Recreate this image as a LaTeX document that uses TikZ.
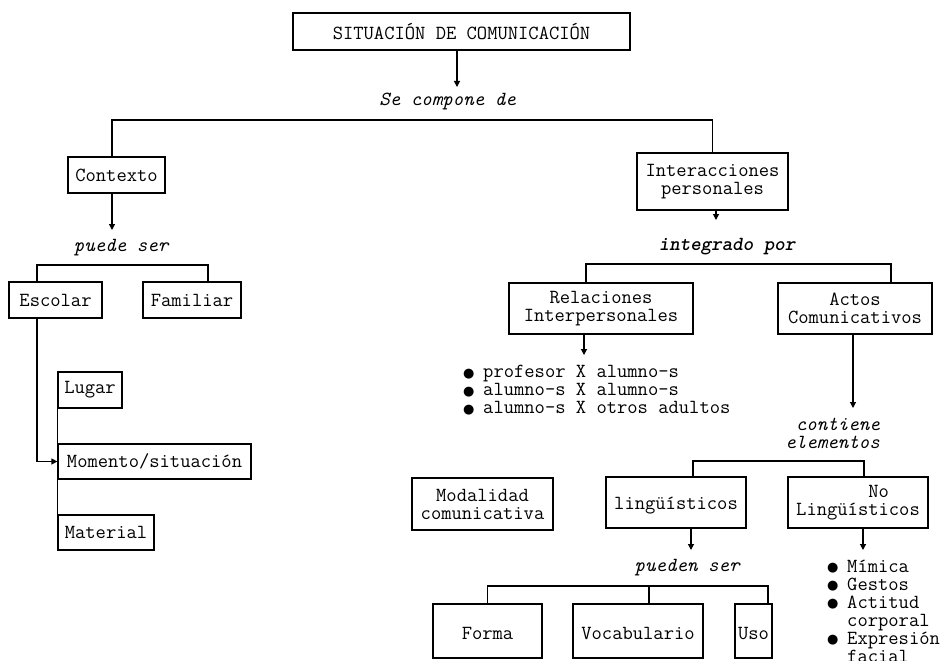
\documentclass[tikz,border=0pt]{standalone}
\usepackage{fontspec}
\newfontfamily\symfont{DejaVu Sans}
\usetikzlibrary{arrows.meta, positioning}

\newcommand{\blt}{\makebox[17pt][l]{\hspace{-3pt}\raisebox{0.5pt}{\symfont\fontsize{13}{13}\selectfont ●}}}
\newcommand{\nobl}{\makebox[17pt][l]{}}

\begin{document}
\begin{tikzpicture}[
    x=1pt, y=-1pt,
    every node/.style={font=\ttfamily\fontsize{20}{18}\selectfont},
    box/.style={rectangle, draw, line width=1.2pt, inner sep=1pt, align=center},
    tag/.style={font=\ttfamily\fontsize{20}{18}\selectfont\itshape, inner sep=0pt},
    list/.style={align=left, inner sep=0pt, anchor=west},
    link/.style={line width=1.2pt},
    arrow/.style={-{Triangle[length=6pt, width=6pt]}, line width=1.2pt}
]
\useasboundingbox (0,0) rectangle (940,661);

% Nodes
\node[box, minimum width=337pt, minimum height=37pt] (situacion) at (461.5,31.5) {SITUACIÓN DE COMUNICACIÓN};
\node[tag] (se-compone) at (447.5,102) {Se compone de};

\node[box, minimum width=97pt, minimum height=36pt] (contexto) at (116.5,175) {Contexto};
\node[tag] (puede-ser) at (121,248) {puede ser};
\node[box, minimum width=93pt, minimum height=36pt] (escolar) at (55.5,300) {Escolar};
\node[box, minimum width=98pt, minimum height=36pt] (familiar) at (192,300) {Familiar};
\node[box, minimum width=64pt, minimum height=36pt] (lugar) at (90,390) {Lugar};
\node[box, minimum width=193pt, minimum height=35pt] (momento) at (154.5,461.5) {Momento/situación};
\node[box, minimum width=96pt, minimum height=35pt] (material) at (106,532.5) {Material};

\node[box, minimum width=151pt, minimum height=57pt] (interacciones) at (712.5,181.5) {Interacciones\\personales};
\node[tag, font=\ttfamily\fontsize{20}{18}\selectfont\bfseries\itshape] (integrado) at (727,247) {integrado por};
\node[box, minimum width=184pt, minimum height=51pt] (relaciones) at (601,308.5) {Relaciones\\Interpersonales};
\node[box, minimum width=154pt, minimum height=51pt] (actos) at (855,308.5) {Actos\\Comunicativos};
\node[list] (rel-list) at (466,390) {\blt profesor X alumno-s\\\blt alumno-s X alumno-s\\\blt alumno-s X otros adultos};
\node[tag, align=right, anchor=east] (contiene) at (880,433.5) {contiene\\elementos};

\node[box, minimum width=141pt, minimum height=52pt] (modalidad) at (482.5,504) {Modalidad\\comunicativa};
\node[box, minimum width=140pt, minimum height=51pt] (linguisticos) at (676,502.5) {\mbox{}\\lingüísticos};
\node[box, minimum width=140pt, minimum height=51pt, align=left] (no-linguisticos) at (858,502.5) {\phantom{Lingüis}No\\Lingüísticos};
\node[tag] (pueden-ser) at (687,568) {pueden ser};
\node[list] (noling-list) at (830,611) {\blt Mímica\\\blt Gestos\\\blt Actitud\\\nobl corporal\\\blt Expresión\\\nobl facial};

\node[box, minimum width=109pt, minimum height=54pt] (forma) at (487.5,631) {\mbox{}\\Forma};
\node[box, minimum width=130pt, minimum height=54pt] (vocabulario) at (638,631) {\mbox{}\\Vocabulario};
\node[box, minimum width=37pt, minimum height=54pt] (uso) at (753.5,631) {\mbox{}\\Uso};

% Helper points
\coordinate (se-tip) at (457,87);
\coordinate (bar-top) at (0,120);
\coordinate (ctx-tip) at (112,230);
\coordinate (bar-puede-l) at (37,265);
\coordinate (bar-puede-r) at (208,265);
\coordinate (int-tip) at (716,220);
\coordinate (bar-int-l) at (586,264);
\coordinate (bar-int-r) at (891,264);
\coordinate (rel-tip) at (584,355);
\coordinate (actos-tip) at (853,408);
\coordinate (bar-cont-l) at (693,461);
\coordinate (bar-cont-r) at (864,461);
\coordinate (ling-tip) at (691,550);
\coordinate (noling-tip) at (863,550);
\coordinate (bar-pued-l) at (487.5,586);
\coordinate (bar-pued-m) at (649,586);
\coordinate (bar-pued-r) at (768,586);

% Arrows
\draw[arrow] (situacion.south -| se-tip) -- (se-tip);
\draw[link] (contexto.north -| ctx-tip) |- (bar-top -| interacciones) -- (interacciones.north);
\draw[arrow] (contexto.south -| ctx-tip) -- (ctx-tip);
\draw[link] (escolar.north -| bar-puede-l) -- (bar-puede-l) -- (bar-puede-r) -- (familiar.north -| bar-puede-r);
\draw[arrow] (escolar.south -| bar-puede-l) |- (momento.west);
\draw[link] (lugar.south west) -- (material.north west);

\draw[arrow] (interacciones.south -| int-tip) -- (int-tip);
\draw[link] (relaciones.north -| bar-int-l) -- (bar-int-l) -- (bar-int-r) -- (actos.north -| bar-int-r);
\draw[arrow] (relaciones.south -| rel-tip) -- (rel-tip);
\draw[arrow] (actos.south -| actos-tip) -- (actos-tip);
\draw[link] (linguisticos.north -| bar-cont-l) -- (bar-cont-l) -- (bar-cont-r) -- (no-linguisticos.north -| bar-cont-r);
\draw[arrow] (linguisticos.south -| ling-tip) -- (ling-tip);
\draw[arrow] (no-linguisticos.south -| noling-tip) -- (noling-tip);
\draw[link] (forma.north) -- (bar-pued-l) -- (bar-pued-r) -- (uso.north -| bar-pued-r);
\draw[link] (bar-pued-m) -- (vocabulario.north -| bar-pued-m);

\end{tikzpicture}
\end{document}
